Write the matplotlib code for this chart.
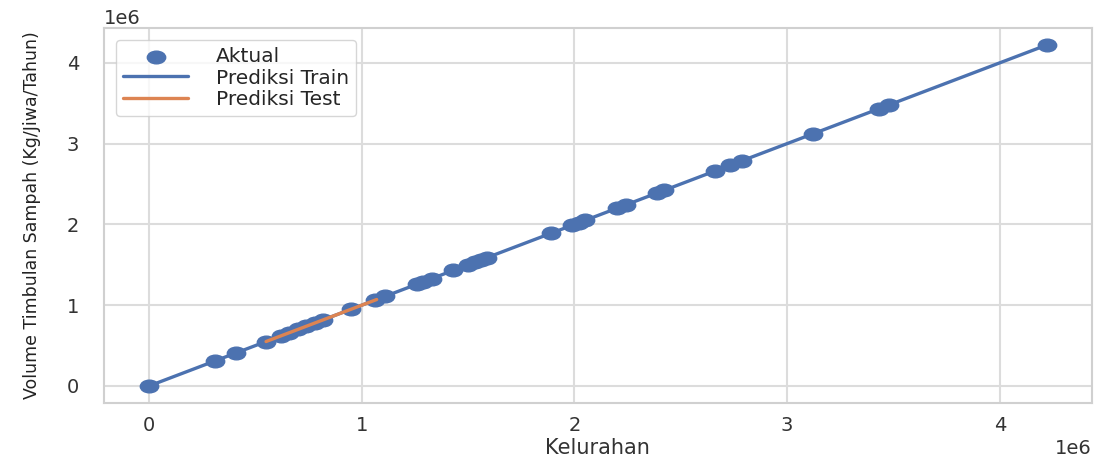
import numpy as np
import matplotlib
matplotlib.use("Agg")
import matplotlib.pyplot as plt
import seaborn as sns
from matplotlib.path import Path
from matplotlib.transforms import Affine2D

# -------------------------------
# Data (in units of 1e6)
# -------------------------------
aktual_x = [0.00, 0.31, 0.41, 0.55, 0.62, 0.66, 0.70, 0.74, 0.78, 0.82,
            0.95, 1.06, 1.11, 1.26, 1.29, 1.33, 1.43, 1.50, 1.53, 1.56,
            1.59, 1.89, 1.99, 2.02, 2.05, 2.20, 2.24, 2.39, 2.42, 2.66,
            2.73, 2.79, 3.12, 3.43, 3.48, 4.22]
aktual_y = [0.00, 0.31, 0.41, 0.55, 0.62, 0.66, 0.70, 0.74, 0.78, 0.82,
            0.95, 1.06, 1.11, 1.26, 1.29, 1.33, 1.43, 1.50, 1.53, 1.56,
            1.59, 1.89, 1.99, 2.02, 2.05, 2.20, 2.24, 2.39, 2.42, 2.66,
            2.73, 2.79, 3.12, 3.43, 3.48, 4.22]

train_x = [0.00, 0.31, 0.41, 0.66, 0.74, 0.82, 1.11, 1.26, 1.33, 1.43,
           1.53, 1.59, 1.89, 2.02, 2.20, 2.39, 2.66, 2.79, 3.12, 3.43,
           3.48, 4.22]
train_pred = [0.00, 0.31, 0.41, 0.66, 0.74, 0.82, 1.11, 1.26, 1.33, 1.43,
              1.53, 1.59, 1.89, 2.02, 2.20, 2.39, 2.66, 2.79, 3.12, 3.43,
              3.48, 4.22]

test_x = [0.55, 0.62, 0.70, 0.78, 0.95, 1.07]
test_pred = [0.55, 0.62, 0.70, 0.78, 0.95, 1.07]

SCALE = 1e6

# -------------------------------
# Plot
# -------------------------------
sns.set_theme(style="whitegrid")
plt.rcParams["font.family"] = ["DejaVu Sans"]

blue = "#4c72b0"
orange = "#dd8452"

# slightly wide ellipse marker, like the reference
ellipse = Path.unit_circle().transformed(Affine2D().scale(1.45, 1.0))

fig = plt.figure(figsize=(10.97, 4.59), dpi=100)
ax = fig.add_axes([0.095, 0.122, 0.90, 0.817])

ax.scatter(np.array(aktual_x) * SCALE, np.array(aktual_y) * SCALE,
           color=blue, marker=ellipse, s=175, label="Aktual", zorder=2)
ax.plot(np.array(train_x) * SCALE, np.array(train_pred) * SCALE,
        color=blue, lw=2.4, label="Prediksi Train", zorder=3)
ax.plot(np.array(test_x) * SCALE, np.array(test_pred) * SCALE,
        color=orange, lw=2.4, label="Prediksi Test", zorder=4)

ax.set_xlabel("Kelurahan", fontsize=15, color="#333333", labelpad=2)
ax.set_ylabel("Volume Timbulan Sampah (Kg/Jiwa/Tahun)", fontsize=12.5,
              color="#222222")
ax.yaxis.set_label_coords(-0.064, 0.5)
ax.tick_params(labelsize=14, colors="#333333")
ax.tick_params(axis="y", pad=12)
ax.xaxis.get_offset_text().set_fontsize(14)
ax.yaxis.get_offset_text().set_fontsize(14)

for s in ax.spines.values():
    s.set_color("#d0d0d0")
    s.set_linewidth(1.5)
ax.grid(color="#dcdcdc", linewidth=1.5)

ax.legend(loc="upper left", fontsize=14.5, frameon=True, handlelength=3.2,
          handletextpad=1.4, labelspacing=0.12, borderpad=0.35,
          borderaxespad=0.6)

fig.savefig("out.png", dpi=100)
